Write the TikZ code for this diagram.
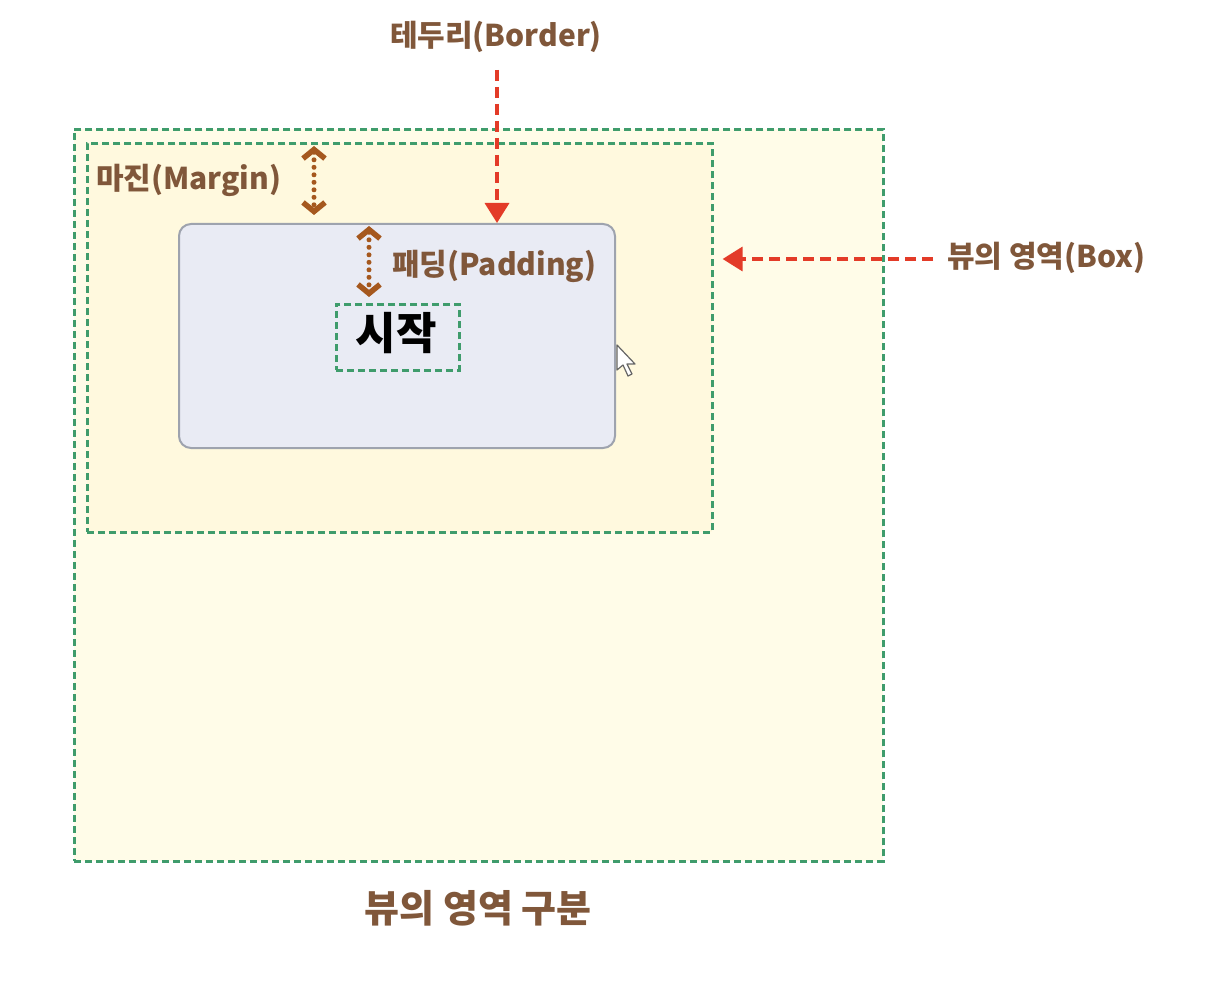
\documentclass[tikz,border=0pt]{standalone}
\usepackage{fontspec}
\setmainfont{Noto Sans CJK KR}
\usetikzlibrary{arrows.meta}
\definecolor{gline}{HTML}{3F9C6C}
\definecolor{outerfill}{HTML}{FFFCE8}
\definecolor{innerfill}{HTML}{FFF9DE}
\definecolor{boxfill}{HTML}{E9EBF4}
\definecolor{boxline}{HTML}{9EA3AE}
\definecolor{brownt}{HTML}{80573A}
\definecolor{browna}{HTML}{A5581E}
\definecolor{redar}{HTML}{E33B28}
\tikzset{
  gbox/.style={draw=gline, line width=2.6pt, dash pattern=on 7pt off 4pt, inner sep=0pt, anchor=north west},
  lbl/.style={text=brownt, font=\fontsize{30}{34}\selectfont\bfseries, inner sep=0pt},
  redarrow/.style={draw=redar, line width=3.5pt, dash pattern=on 11pt off 6pt, -{Triangle[length=20pt,width=24pt]}},
  brarrow/.style={draw=browna, line width=5pt, line cap=round, dash pattern=on 0pt off 7.5pt, {Straight Barb[length=9pt,width=22pt,line width=5.5pt]}-{Straight Barb[length=9pt,width=22pt,line width=5.5pt]}},
}
\begin{document}
\begin{tikzpicture}[x=1pt,y=-1pt]
\useasboundingbox[fill=white] (0,0) rectangle (1218,984);
\node[gbox, fill=outerfill, minimum width=809pt, minimum height=732pt] (view) at (73,128) {};
\node[gbox, fill=innerfill, minimum width=625pt, minimum height=389pt] (margin) at (86,142) {};
\node[draw=boxline, fill=boxfill, line width=2pt, rounded corners=12pt, minimum width=436pt, minimum height=224pt, anchor=north west] (border) at (178,223) {};
\node[gbox, fill=boxfill, minimum width=123pt, minimum height=66pt] (content) at (335,303) {};
\node[font=\fontsize{44}{48}\selectfont\bfseries, inner sep=0pt] (start) at (396,333) {시작};
\node[lbl, anchor=west] (marginlbl) at (96,180) {마진(Margin)};
\node[lbl, anchor=west] (paddinglbl) at (392,266) {패딩(Padding)};
\node[lbl] (borderlbl) at (496,37) {테두리(Border)};
\node[lbl, anchor=west] (boxlbl) at (947,258) {뷰의 영역(Box)};
\node[text=brownt, font=\fontsize{38}{42}\selectfont\bfseries, inner sep=0pt] (title) at (478,908) {뷰의 영역 구분};
\coordinate (bstart) at (497,70);
\coordinate (xstart) at (933,259);
\coordinate (mx) at (314,0);
\coordinate (px) at (369,0);
\draw[redarrow] (bstart) -- (border.north -| bstart);
\draw[redarrow, shorten >=9pt] (xstart) -- (margin.east |- xstart);
\draw[brarrow, shorten <=4pt, shorten >=8pt] (margin.north -| mx) -- (border.north -| mx);
\draw[brarrow, shorten <=3pt, shorten >=6pt] (border.north -| px) -- (content.north -| px);
\draw[draw=gray!80!black, fill=white, line width=1.2pt, line join=round] (617,345) -- ++(0,25) -- ++(6,-5) -- ++(5,11) -- ++(4,-2) -- ++(-5,-10) -- ++(8,0) -- cycle;
\end{tikzpicture}
\end{document}
